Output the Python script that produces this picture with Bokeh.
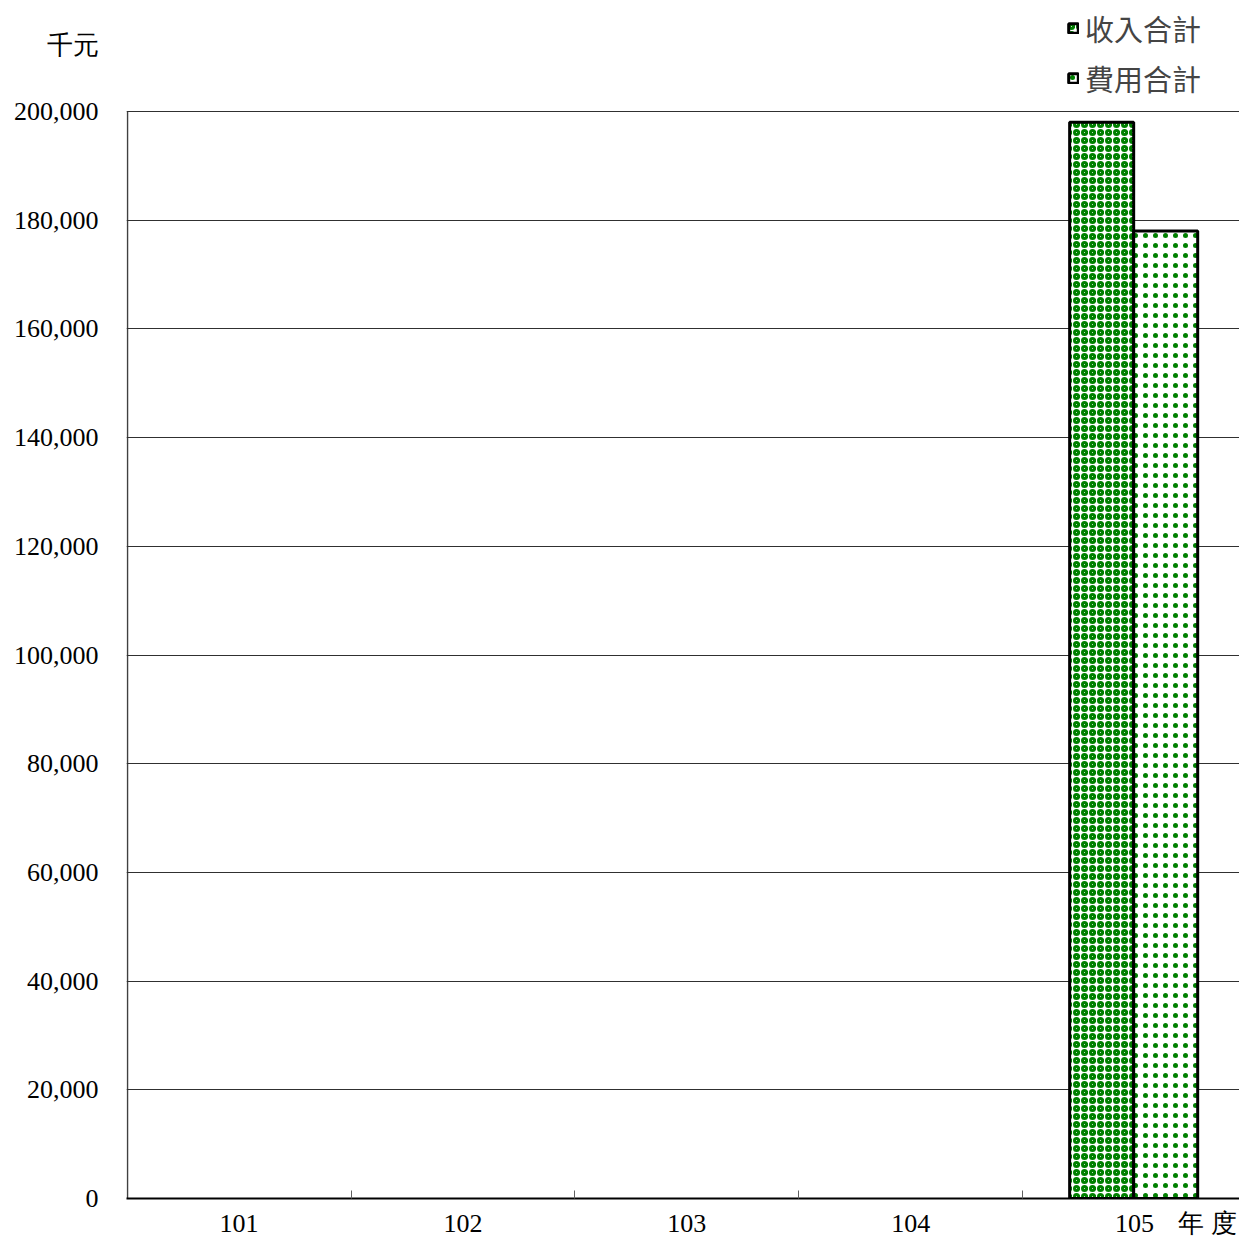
from bokeh.plotting import figure
from bokeh.models import (Range1d, FixedTicker, Legend, LegendItem,
                          ColumnDataSource, NumeralTickFormatter)
from bokeh.transform import dodge
from bokeh.embed import file_html
from bokeh.resources import INLINE

# ---- data ----
years = ["101", "102", "103", "104", "105"]
income = [float("nan"), float("nan"), float("nan"), float("nan"), 198000]
expense = [float("nan"), float("nan"), float("nan"), float("nan"), 178000]
series_names = ["收入合計", "費用合計"]
unit_label = "千元"
x_suffix = "年 度"
y_ticks = [0, 20000, 40000, 60000, 80000, 100000, 120000, 140000, 160000, 180000, 200000]

# ---- layout constants (screen geometry) ----
W, H = 1239, 1240
LEFT = 126          # frame left
BOTTOM_PANEL = 42   # frame bottom at H - 42
Y_TOP_VALUE = y_ticks[-1]
Y_TOP_PX = 111      # pixel row of the top tick
frame_h = H - BOTTOM_PANEL
y_max = Y_TOP_VALUE * frame_h / (frame_h - Y_TOP_PX)
unit_pos = Y_TOP_VALUE * (frame_h - 45) / (frame_h - Y_TOP_PX)
cat_w = 224.0
x_start = 0.497
x_end = 0.5 + (W - LEFT) / cat_w
suffix_pos = 5.325

xpos = list(range(1, len(years) + 1))
src = ColumnDataSource(dict(x=xpos, income=income, expense=expense))

SERIF = "Liberation Serif"
CJK = "Noto Sans CJK TC"
GREEN = "#008000"

p = figure(width=W, height=H, output_backend="svg", toolbar_location=None,
           x_range=Range1d(x_start, x_end), y_range=Range1d(0, y_max),
           min_border_left=LEFT, min_border_top=0, min_border_right=0,
           min_border_bottom=BOTTOM_PANEL)
p.outline_line_color = None
p.background_fill_color = "white"
p.border_fill_color = "white"

# bars
r1 = p.vbar(x=dodge("x", -0.147, range=p.x_range), top="income", width=0.286, bottom=0,
            source=src, fill_color="white", line_color="black", line_width=3,
            hatch_pattern="ring", hatch_color=GREEN, hatch_scale=8, hatch_weight=3)
r2 = p.vbar(x=dodge("x", 0.139, range=p.x_range), top="expense", width=0.286, bottom=0,
            source=src, fill_color="white", line_color="black", line_width=3,
            hatch_pattern="dot", hatch_color=GREEN, hatch_scale=10, hatch_weight=1)

# y axis (labels only; the axis line is drawn by a bounded x-grid line)
p.yaxis.ticker = FixedTicker(ticks=y_ticks + [unit_pos])
p.yaxis.formatter = NumeralTickFormatter(format="0,0")
p.yaxis.major_label_overrides = {unit_pos: unit_label}
p.yaxis.major_tick_out = 0
p.yaxis.major_tick_in = 0
p.yaxis.minor_tick_out = 0
p.yaxis.minor_tick_in = 0
p.yaxis.major_label_standoff = 28
p.yaxis.major_label_text_font = SERIF
p.yaxis.major_label_text_font_size = "26px"
p.yaxis.major_label_text_color = "black"
p.yaxis.axis_line_color = None

# x axis
p.xaxis.ticker = FixedTicker(ticks=xpos + [suffix_pos], minor_ticks=[1.5, 2.5, 3.5, 4.5])
overrides = {i: y for i, y in zip(xpos, years)}
overrides[suffix_pos] = x_suffix
p.xaxis.major_label_overrides = overrides
p.xaxis.major_tick_out = 0
p.xaxis.major_tick_in = 0
p.xaxis.minor_tick_out = 0
p.xaxis.minor_tick_in = 8
p.xaxis.minor_tick_line_color = "#606060"
p.xaxis.major_label_standoff = 10
p.xaxis.major_label_text_font = SERIF
p.xaxis.major_label_text_font_size = "26px"
p.xaxis.major_label_text_color = "black"
p.xaxis.axis_line_color = "black"
p.xaxis.axis_line_width = 2

# grids
p.ygrid.ticker = FixedTicker(ticks=y_ticks)
p.ygrid.grid_line_color = "#303030"
p.ygrid.grid_line_width = 1
p.xgrid.ticker = FixedTicker(ticks=[0.5])
p.xgrid.cross_bounds = (y_ticks[0], Y_TOP_VALUE)
p.xgrid.grid_line_color = "#404040"
p.xgrid.grid_line_width = 1.5

legend = Legend(items=[LegendItem(label=series_names[0], renderers=[r1]),
                       LegendItem(label=series_names[1], renderers=[r2])],
                location=(941, frame_h - 99), border_line_color=None,
                background_fill_alpha=0, glyph_width=12, glyph_height=12,
                label_height=40, label_text_font=CJK, label_text_font_size="29px",
                label_standoff=6, padding=0, spacing=8, margin=0)
p.add_layout(legend)

open("out.html", "w").write(file_html(p, INLINE))
